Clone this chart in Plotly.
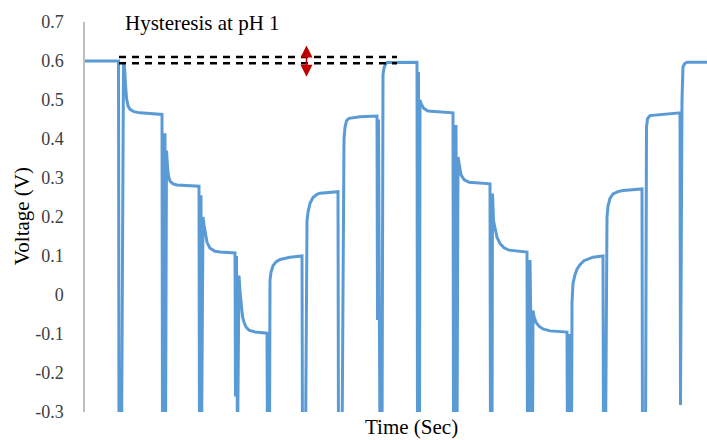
import plotly.graph_objects as go

# Open-circuit voltage trace recorded while stepping the pH down and back up
time_s = [
    0, 167.5, 170, 182.5,
    192.5, 197.5, 202.5, 207.5, 215, 225, 245, 275, 385,
    387.5, 395, 400, 402.5,
    407.5, 412.5, 417.5, 425, 440, 460, 570,
    572.5, 580, 582.5,
    590, 595, 600, 610, 625, 650, 675, 750,
    752.5, 757.5, 762.5,
    770, 775, 780, 787.5, 795, 805, 820, 850, 910,
    912.5, 922.5,
    925, 930, 940, 955, 975, 1025, 1085,
    1087.5, 1102.5,
    1110, 1115, 1125, 1140, 1160, 1175, 1265,
    1267.5, 1285,
    1295, 1300, 1307.5, 1320, 1375, 1460,
    1462.5, 1467.5, 1475, 1485,
    1490, 1495, 1502.5, 1510, 1660,
    1662.5, 1667.5, 1672.5,
    1675, 1682.5, 1695, 1715, 1840,
    1842.5, 1852.5, 1855, 1860,
    1865, 1872.5, 1880, 1895, 1920, 2025,
    2027.5, 2035, 2037.5,
    2042.5, 2050, 2060, 2075, 2095, 2120, 2210,
    2212.5, 2220, 2225, 2232.5, 2237.5,
    2240, 2245, 2255, 2270, 2290, 2325, 2410,
    2412.5, 2420, 2425, 2432.5,
    2435, 2440, 2450, 2460, 2475, 2495, 2540, 2590,
    2592.5, 2602.5,
    2610, 2615, 2625, 2640, 2665, 2690, 2785,
    2787.5, 2802.5,
    2807.5, 2812.5, 2825, 2975,
    2977.5, 2985,
    2990, 2997.5, 3010, 3110,
]
voltage_v = [
    0.600, 0.600, -0.40, -0.40,
    0.595, 0.585, 0.540, 0.505, 0.485, 0.476, 0.470, 0.467, 0.463,
    -0.40, -0.40, 0.415, -0.40,
    0.370, 0.330, 0.305, 0.292, 0.285, 0.282, 0.279,
    -0.40, 0.256, -0.40,
    0.200, 0.180, 0.160, 0.135, 0.120, 0.112, 0.110, 0.108,
    -0.26, 0.100, -0.40,
    0.050, 0.010, -0.025, -0.055, -0.070, -0.082, -0.090, -0.095, -0.098,
    -0.40, -0.40,
    0.038, 0.058, 0.075, 0.085, 0.091, 0.097, 0.100,
    -0.40, -0.40,
    0.190, 0.212, 0.235, 0.250, 0.258, 0.261, 0.265,
    -0.40, -0.40,
    0.400, 0.430, 0.447, 0.453, 0.457, 0.459,
    -0.064, 0.450, -0.40, -0.40,
    0.565, 0.582, 0.592, 0.596, 0.597,
    -0.40, 0.572, -0.40,
    0.500, 0.488, 0.478, 0.472, 0.467,
    -0.40, -0.40, 0.436, -0.40,
    0.354, 0.325, 0.308, 0.296, 0.289, 0.285,
    -0.40, -0.40, 0.260,
    0.190, 0.168, 0.148, 0.132, 0.121, 0.115, 0.110,
    -0.40, -0.40, 0.090, -0.40, -0.40,
    -0.040, -0.055, -0.070, -0.080, -0.087, -0.092, -0.095,
    -0.40, -0.100, -0.40, -0.40,
    -0.020, 0.030, 0.052, 0.066, 0.078, 0.088, 0.097, 0.100,
    -0.40, -0.40,
    0.200, 0.228, 0.248, 0.259, 0.265, 0.268, 0.272,
    -0.40, -0.40,
    0.430, 0.452, 0.460, 0.467,
    -0.282, 0.500,
    0.585, 0.593, 0.597, 0.597,
]

# Y axis ticks
y_ticks = [-0.3, -0.2, -0.1, 0, 0.1, 0.2, 0.3, 0.4, 0.5, 0.6, 0.7]
y_tick_labels = ["-0.3", "-0.2", "-0.1", "0", "0.1", "0.2", "0.3", "0.4", "0.5", "0.6", "0.7"]

# Hysteresis markers: the two plateau levels and the span they cover
hysteresis_levels = [0.610, 0.594]
hysteresis_span_s = [170, 1560]
arrow_time_s = 1107.5
arrow_range_v = [0.556, 0.640]

SERIF = "Times New Roman, Liberation Serif, serif"
BLUE = "#5B9BD5"

fig = go.Figure()
fig.add_trace(go.Scatter(
    x=time_s, y=voltage_v, mode="lines",
    line=dict(color=BLUE, width=3),
    hoverinfo="skip", showlegend=False,
))

for level in hysteresis_levels:
    fig.add_shape(
        type="line", xref="x", yref="y",
        x0=hysteresis_span_s[0], x1=hysteresis_span_s[1], y0=level, y1=level,
        line=dict(color="black", width=2.5, dash="7px,6px"),
    )

fig.add_annotation(
    x=arrow_time_s, y=arrow_range_v[1], ax=arrow_time_s, ay=arrow_range_v[0],
    xref="x", yref="y", axref="x", ayref="y",
    text="", showarrow=True, arrowside="end+start",
    arrowhead=2, startarrowhead=2, arrowsize=1.6, startarrowsize=1.6,
    arrowwidth=1.5, arrowcolor="#C00000", standoff=0, startstandoff=0,
)

fig.add_annotation(
    text="Hysteresis at pH 1", xref="paper", yref="paper",
    x=0.061, y=0.997, xanchor="left", yanchor="middle", showarrow=False,
    font=dict(family=SERIF, size=21, color="black"),
)
fig.add_annotation(
    text="Time (Sec)", xref="paper", yref="paper",
    x=0.5257, y=-0.038, xanchor="center", yanchor="middle", showarrow=False,
    font=dict(family=SERIF, size=21, color="black"),
)
fig.add_annotation(
    text="Voltage (V)", xref="paper", yref="paper", textangle=-90,
    x=-0.101, y=0.5026, xanchor="center", yanchor="middle", showarrow=False,
    font=dict(family=SERIF, size=21, color="black"),
)

fig.update_layout(
    width=707, height=440,
    margin=dict(l=85, r=0, t=22, b=28),
    paper_bgcolor="white", plot_bgcolor="white",
    xaxis=dict(
        range=[0, 3110], showgrid=False, zeroline=False, showline=False,
        showticklabels=False, ticks="", fixedrange=True,
    ),
    yaxis=dict(
        range=[-0.3, 0.7], tickvals=y_ticks, ticktext=y_tick_labels,
        showgrid=False, zeroline=False, showline=True,
        linecolor="#BFBFBF", linewidth=1.5, ticks="",
        ticklabelstandoff=16,
        tickfont=dict(family=SERIF, size=18, color="#404040"),
        fixedrange=True,
    ),
)

fig.write_html("out.html")
